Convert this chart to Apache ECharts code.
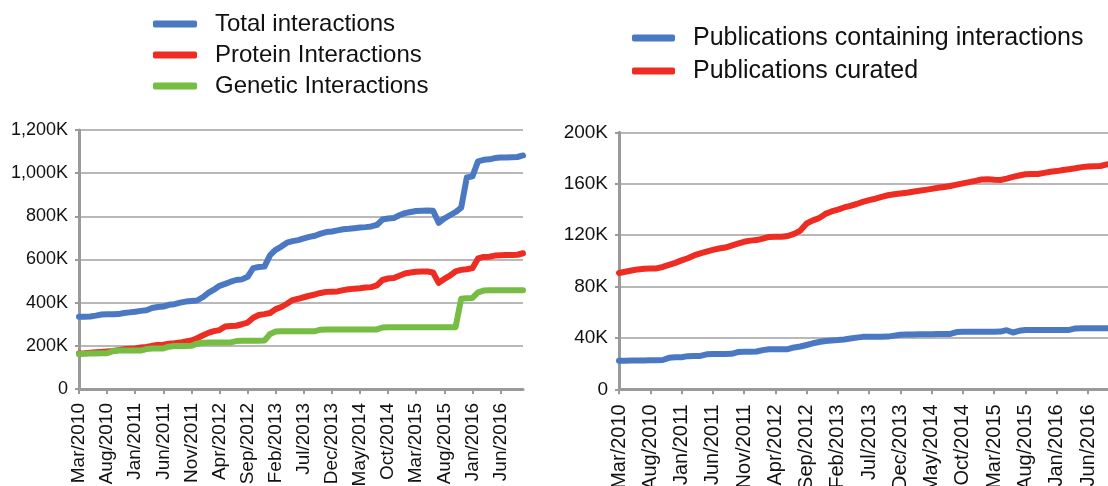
<!DOCTYPE html>
<html>
<head>
<meta charset="utf-8">
<script src="https://cdn.jsdelivr.net/npm/echarts@6/dist/echarts.min.js"></script>
<style>
html,body{margin:0;padding:0;background:#fff;}
#c{width:1108px;height:486px;}
</style>
</head>
<body>
<div id="c"></div>
<script>
// Monthly categories Mar/2010 .. Oct/2016
var months = [
 'Mar/2010','Apr/2010','May/2010','Jun/2010','Jul/2010','Aug/2010','Sep/2010','Oct/2010','Nov/2010','Dec/2010',
 'Jan/2011','Feb/2011','Mar/2011','Apr/2011','May/2011','Jun/2011','Jul/2011','Aug/2011','Sep/2011','Oct/2011','Nov/2011','Dec/2011',
 'Jan/2012','Feb/2012','Mar/2012','Apr/2012','May/2012','Jun/2012','Jul/2012','Aug/2012','Sep/2012','Oct/2012','Nov/2012','Dec/2012',
 'Jan/2013','Feb/2013','Mar/2013','Apr/2013','May/2013','Jun/2013','Jul/2013','Aug/2013','Sep/2013','Oct/2013','Nov/2013','Dec/2013',
 'Jan/2014','Feb/2014','Mar/2014','Apr/2014','May/2014','Jun/2014','Jul/2014','Aug/2014','Sep/2014','Oct/2014','Nov/2014','Dec/2014',
 'Jan/2015','Feb/2015','Mar/2015','Apr/2015','May/2015','Jun/2015','Jul/2015','Aug/2015','Sep/2015','Oct/2015','Nov/2015','Dec/2015',
 'Jan/2016','Feb/2016','Mar/2016','Apr/2016','May/2016','Jun/2016','Jul/2016','Aug/2016','Sep/2016','Oct/2016'
];

// Left chart (values in thousands)
var totalInteractions = [
 335,335,336,340,345,346,346,347,352,355,
 358,362,365,375,380,382,390,393,400,405,408,410,
 425,445,460,478,487,497,505,508,520,560,565,567,
 620,645,660,678,685,690,698,705,710,720,727,730,
 735,740,742,745,748,750,753,760,785,790,792,805,
 815,820,825,826,827,826,770,790,805,820,840,980,
 985,1055,1062,1064,1070,1073,1073,1074,1075,1082
];
var proteinInteractions = [
 165,166,168,170,172,174,176,180,184,186,
 188,192,195,200,204,205,210,212,215,220,225,235,
 248,260,268,273,290,292,293,300,308,330,343,347,
 352,370,380,395,412,418,425,432,438,445,450,451,
 452,458,462,465,467,470,472,480,505,512,514,525,
 535,540,543,544,544,540,492,510,525,545,552,555,
 560,605,612,613,618,620,621,621,622,629
];
var geneticInteractions = [
 162,163,164,165,166,166,175,178,178,178,
 178,178,185,188,188,188,196,199,199,199,200,210,
 214,215,215,215,215,216,222,224,224,224,224,225,
 255,266,268,268,268,268,268,268,268,275,276,276,
 276,276,276,276,276,276,276,276,285,286,286,286,
 286,286,286,286,286,286,286,286,286,286,418,420,
 422,448,456,458,458,458,458,458,458,458
];

// Right chart (values in thousands)
var pubsContaining = [
 22.3,22.3,22.4,22.5,22.5,22.6,22.7,22.8,24.5,24.9,
 24.9,25.8,25.9,26.0,27.2,27.5,27.5,27.5,27.6,29.0,29.3,29.3,
 29.4,30.5,31.1,31.1,31.1,31.2,32.6,33.3,34.5,35.8,36.8,37.6,
 38.0,38.3,38.8,39.5,40.2,40.8,40.9,40.9,40.9,41.0,41.8,42.5,
 42.6,42.7,42.8,42.9,42.9,43.0,43.0,43.1,44.5,44.8,44.8,44.8,
 44.8,44.8,44.8,44.9,46.0,44.2,45.5,46.1,46.1,46.1,46.1,46.1,
 46.1,46.2,46.2,47.4,47.5,47.5,47.5,47.5,47.5,47.5
];
var pubsCurated = [
 90.5,91.5,92.5,93.3,93.8,94.0,94.1,95.2,96.8,98.4,
 100.3,102.0,104.2,105.8,107.2,108.5,109.6,110.3,111.8,113.4,114.8,115.7,
 116.1,117.2,118.6,118.7,118.7,119.3,121.0,123.5,129.0,131.5,133.2,136.5,
 138.4,139.8,141.5,142.8,144.2,145.8,147.2,148.3,149.8,151.0,151.8,152.4,
 153.0,153.8,154.5,155.2,156.0,156.8,157.5,158.2,159.3,160.3,161.2,162.2,
 163.3,163.4,163.0,162.9,164.0,165.3,166.4,167.4,167.6,167.6,168.4,169.3,
 169.8,170.6,171.3,172.0,172.9,173.4,173.6,173.8,175.0,175.5
];

function k(arr){ return arr.map(function(v){ return v*1000; }); }

var BLUE='#4a78c2', RED='#ee2c22', GREEN='#76bd43';
var AXIS='#9a9a9a', GRID='#b8b8b8';
var FONT='Liberation Sans, Arial, sans-serif';

function fmtK(v){ return v===0 ? '0' : (v/1000).toLocaleString('en-US')+'K'; }

function xAxis(idx, fs, margin){
  return {
    type:'category', gridIndex:idx, data:months, boundaryGap:false,
    axisLine:{lineStyle:{color:AXIS,width:3}},
    axisTick:{interval:4, length:5, lineStyle:{color:AXIS,width:2}},
    axisLabel:{interval:4, rotate:90, margin:margin, color:'#111', fontSize:fs, fontFamily:FONT},
    splitLine:{show:false}
  };
}
function yAxis(idx, max, interval, fs){
  return {
    type:'value', gridIndex:idx, min:0, max:max, interval:interval,
    axisLine:{show:true, lineStyle:{color:AXIS,width:3}},
    axisTick:{show:true, length:4, lineStyle:{color:AXIS,width:2}},
    axisLabel:{margin:11, color:'#111', fontSize:fs, fontFamily:FONT, formatter:fmtK},
    splitLine:{lineStyle:{color:GRID,width:2}}
  };
}
function line(name, data, color, xi, yi){
  return {
    name:name, type:'line', xAxisIndex:xi, yAxisIndex:yi, data:k(data),
    showSymbol:false, symbol:'none', smooth:false, animation:false,
    lineStyle:{color:color, width:6, cap:'round', join:'round'},
    itemStyle:{color:color}
  };
}

var chart = echarts.init(document.getElementById('c'), null, {renderer:'canvas'});
chart.setOption({
  animation:false,
  backgroundColor:'#fff',
  legend:[
    {
      data:['Total interactions','Protein Interactions','Genetic Interactions'],
      orient:'vertical', left:153, top:8.5, itemGap:0, padding:0,
      itemWidth:44, itemHeight:7, icon:'roundRect',
      textStyle:{fontSize:24, fontFamily:FONT, color:'#111', lineHeight:31, padding:[0,0,0,13]},
      selectedMode:false
    },
    {
      data:['Publications containing interactions','Publications curated'],
      orient:'vertical', left:632, top:21.5, itemGap:0, padding:0,
      itemWidth:43, itemHeight:7, icon:'roundRect',
      textStyle:{fontSize:25, fontFamily:FONT, color:'#111', lineHeight:33, padding:[0,0,0,13]},
      selectedMode:false
    }
  ],
  grid:[
    {left:79, top:130, width:444, height:259, containLabel:false, outerBoundsMode:'none'},
    {left:619, top:132.3, width:494, height:257, containLabel:false, outerBoundsMode:'none'}
  ],
  xAxis:[xAxis(0,19,14), xAxis(1,20,15)],
  yAxis:[yAxis(0,1200000,200000,18), yAxis(1,200000,40000,19)],
  series:[
    line('Total interactions', totalInteractions, BLUE, 0, 0),
    line('Protein Interactions', proteinInteractions, RED, 0, 0),
    line('Genetic Interactions', geneticInteractions, GREEN, 0, 0),
    line('Publications containing interactions', pubsContaining, BLUE, 1, 1),
    line('Publications curated', pubsCurated, RED, 1, 1)
  ]
});
</script>
</body>
</html>
